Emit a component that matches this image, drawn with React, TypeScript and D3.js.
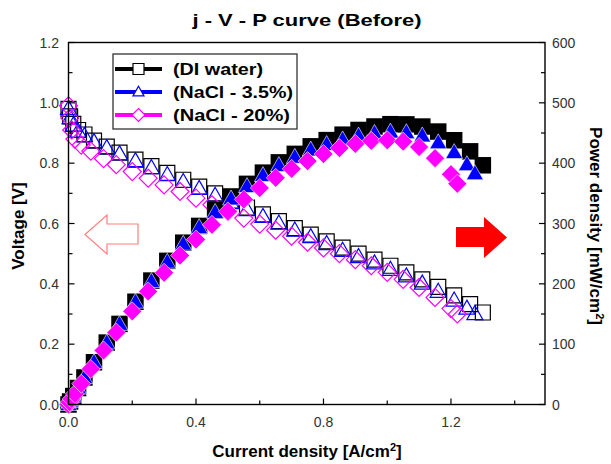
import React from 'react';
import * as d3 from 'd3';

// ---- Data ----
const jDI = [0, 0.005, 0.015, 0.03, 0.05, 0.08, 0.12, 0.16, 0.21, 0.26, 0.31, 0.36, 0.41, 0.46, 0.51, 0.56, 0.61, 0.66, 0.71, 0.76, 0.81, 0.86, 0.91, 0.96, 1.01, 1.06, 1.11, 1.16, 1.21, 1.26, 1.30];
const vDI = [0.98, 0.955, 0.93, 0.91, 0.895, 0.875, 0.855, 0.835, 0.812, 0.79, 0.768, 0.745, 0.722, 0.70, 0.676, 0.653, 0.63, 0.608, 0.585, 0.563, 0.541, 0.52, 0.50, 0.48, 0.46, 0.438, 0.415, 0.39, 0.362, 0.333, 0.305];
const pDI = [0, 4.8, 14, 27.3, 44.8, 70, 102.6, 133.6, 170.5, 205.4, 238.1, 268.2, 296, 322, 344.8, 365.7, 384.3, 401.3, 415.4, 427.9, 438.2, 447.2, 455, 460.8, 464.6, 464.3, 460.7, 452.4, 438, 419.6, 396.5];

const jNa35 = [0, 0.005, 0.015, 0.03, 0.05, 0.08, 0.12, 0.16, 0.21, 0.26, 0.31, 0.36, 0.41, 0.46, 0.51, 0.56, 0.61, 0.66, 0.71, 0.76, 0.81, 0.86, 0.91, 0.96, 1.01, 1.06, 1.11, 1.16, 1.21, 1.25, 1.275];
const vNa35 = [0.98, 0.95, 0.925, 0.905, 0.89, 0.87, 0.85, 0.83, 0.807, 0.784, 0.761, 0.738, 0.715, 0.692, 0.668, 0.645, 0.622, 0.60, 0.577, 0.555, 0.532, 0.51, 0.489, 0.468, 0.447, 0.425, 0.401, 0.374, 0.345, 0.318, 0.30];
const pNa35 = [0, 4.8, 13.9, 27.2, 44.5, 69.6, 102, 132.8, 169.5, 203.8, 235.9, 265.7, 293.2, 318.3, 340.7, 361.2, 379.4, 396, 409.7, 421.8, 430.9, 438.6, 445, 449.3, 451.5, 450.5, 445.1, 433.8, 417.5, 397.5, 382.5];

const jNa20 = [0, 0.004, 0.01, 0.02, 0.04, 0.07, 0.11, 0.15, 0.20, 0.25, 0.30, 0.35, 0.40, 0.45, 0.50, 0.55, 0.60, 0.65, 0.70, 0.75, 0.80, 0.85, 0.90, 0.95, 1.00, 1.05, 1.10, 1.15, 1.20, 1.22];
const vNa20 = [0.99, 0.95, 0.91, 0.88, 0.86, 0.84, 0.815, 0.795, 0.772, 0.75, 0.728, 0.706, 0.684, 0.662, 0.64, 0.618, 0.598, 0.578, 0.558, 0.538, 0.519, 0.50, 0.48, 0.46, 0.438, 0.415, 0.388, 0.355, 0.318, 0.30];
const pNa20 = [0, 3.8, 9.1, 17.6, 34.4, 58.8, 89.7, 119.3, 154.4, 187.5, 218.4, 247.1, 273.6, 297.9, 320, 339.9, 358.8, 375.7, 390.6, 403.5, 415.2, 425, 432, 437, 438, 435.8, 426.8, 408.3, 381.6, 366];

const legendLabels = ['(DI water)', '(NaCl - 3.5%)', '(NaCl - 20%)'];
const xTicks = [0, 0.4, 0.8, 1.2];
const xMinor = [0.2, 0.6, 1.0, 1.4];
const vTicks = [0, 0.2, 0.4, 0.6, 0.8, 1.0, 1.2];
const vMinor = [0.1, 0.3, 0.5, 0.7, 0.9, 1.1];
const pTicks = [0, 100, 200, 300, 400, 500, 600];
const pMinor = [50, 150, 250, 350, 450, 550];

const FONT = '"Liberation Sans", Arial, Helvetica, sans-serif';

type Shape = 'square' | 'triangle' | 'diamond';

function markerPath(shape: Shape, cx: number, cy: number, s: number): string {
  if (shape === 'square') {
    return `M${cx - s / 2},${cy - s / 2}h${s}v${s}h${-s}Z`;
  }
  if (shape === 'triangle') {
    const h = s * 0.88;
    return `M${cx},${cy - h * 0.6}L${cx + s / 2},${cy + h * 0.4}L${cx - s / 2},${cy + h * 0.4}Z`;
  }
  return `M${cx},${cy - s / 2}L${cx + s / 2},${cy}L${cx},${cy + s / 2}L${cx - s / 2},${cy}Z`;
}

export default function App() {
  const L = 68.5, R = 545, T = 42.5, B = 404.5;
  const x = d3.scaleLinear().domain([0, 1.495]).range([L, R]);
  const yV = d3.scaleLinear().domain([0, 1.2]).range([B, T]);
  const yP = d3.scaleLinear().domain([0, 600]).range([B, T]);

  const series = [
    { j: jDI, v: vDI, p: pDI, color: '#000000', shape: 'square' as Shape, hs: 15, fs: 16.5, label: legendLabels[0] },
    { j: jNa35, v: vNa35, p: pNa35, color: '#0000ff', shape: 'triangle' as Shape, hs: 16, fs: 17, label: legendLabels[1] },
    { j: jNa20, v: vNa20, p: pNa20, color: '#ff00ff', shape: 'diamond' as Shape, hs: 18, fs: 19, label: legendLabels[2] },
  ];

  const legendRowY = [69, 92, 115];
  const legendTextLen = [90, 120, 117];

  return (
    <svg width={611} height={464} viewBox="0 0 611 464"
      style={{ position: 'absolute', left: 0, top: 0, background: '#fff' }}
      fontFamily={FONT}>
      <rect x={0} y={0} width={611} height={464} fill="#fff" />

      {/* Title */}
      <text x={307} y={26} textAnchor="middle" fontSize={17} fontWeight="bold"
        textLength={229} lengthAdjust="spacingAndGlyphs">j - V - P curve (Before)</text>

      {/* Voltage curves (hollow) */}
      {series.map((s, si) => (
        <g key={'v' + si}>
          {s.j.map((jj, i) => (
            <path key={i} d={markerPath(s.shape, x(jj), yV(s.v[i]), s.hs)}
              fill="none" stroke={s.color} strokeWidth={1.2} />
          ))}
        </g>
      ))}

      {/* Power curves (filled) */}
      {series.map((s, si) => (
        <g key={'p' + si}>
          {s.j.map((jj, i) => (
            <path key={i} d={markerPath(s.shape, x(jj), yP(s.p[i]), s.fs)}
              fill={s.color} stroke={si === 0 ? 'none' : '#ffffff'} strokeWidth={0.6} />
          ))}
        </g>
      ))}

      {/* Frame */}
      <rect x={L} y={T} width={R - L} height={B - T} fill="none" stroke="#000" strokeWidth={1.4} />

      {/* X ticks */}
      {xTicks.map((t) => (
        <g key={'xt' + t}>
          <line x1={x(t)} x2={x(t)} y1={B} y2={B - 6} stroke="#000" strokeWidth={1.2} />
          <text x={x(t)} y={427} textAnchor="middle" fontSize={14} fill="#333">{t.toFixed(1)}</text>
        </g>
      ))}
      {xMinor.map((t) => (
        <line key={'xm' + t} x1={x(t)} x2={x(t)} y1={B} y2={B - 4} stroke="#000" strokeWidth={1.2} />
      ))}

      {/* Left V ticks */}
      {vTicks.map((t) => (
        <g key={'vt' + t}>
          <line x1={L} x2={L + 6} y1={yV(t)} y2={yV(t)} stroke="#000" strokeWidth={1.2} />
          <text x={59} y={yV(t) + 5} textAnchor="end" fontSize={14} fill="#333">{t.toFixed(1)}</text>
        </g>
      ))}
      {vMinor.map((t) => (
        <line key={'vm' + t} x1={L} x2={L + 4} y1={yV(t)} y2={yV(t)} stroke="#000" strokeWidth={1.2} />
      ))}

      {/* Right P ticks */}
      {pTicks.map((t) => (
        <g key={'pt' + t}>
          <line x1={R} x2={R - 6} y1={yP(t)} y2={yP(t)} stroke="#000" strokeWidth={1.2} />
          <text x={552} y={yP(t) + 5} textAnchor="start" fontSize={14} fill="#333">{t}</text>
        </g>
      ))}
      {pMinor.map((t) => (
        <line key={'pm' + t} x1={R} x2={R - 4} y1={yP(t)} y2={yP(t)} stroke="#000" strokeWidth={1.2} />
      ))}

      {/* Axis titles */}
      <text x={0} y={0} transform="translate(24,226) rotate(-90)" textAnchor="middle"
        fontSize={17} fontWeight="bold">Voltage [V]</text>
      <text x={0} y={0} transform="translate(590,226) rotate(90)" textAnchor="middle"
        fontSize={17} fontWeight="bold">Power density [mW/cm<tspan dy={-6} fontSize={11}>2</tspan><tspan dy={6}>]</tspan></text>
      <text x={307} y={457} textAnchor="middle" fontSize={17} fontWeight="bold">
        Current density [A/cm<tspan dy={-6} fontSize={11}>2</tspan><tspan dy={6}>]</tspan></text>

      {/* Arrows */}
      <path d="M85,234.5 L107,215 L107,224 L138,224 L138,244 L107,244 L107,254 Z"
        fill="none" stroke="#ff7f7f" strokeWidth={1.2} />
      <path d="M456,227 L484,227 L484,217 L507,237.5 L484,258 L484,247 L456,247 Z"
        fill="#ff0000" />

      {/* Legend */}
      <rect x={113} y={54} width={184} height={75} fill="#fff" stroke="#333" strokeWidth={1.3} />
      {series.map((s, si) => (
        <g key={'lg' + si}>
          <line x1={115} x2={162} y1={legendRowY[si]} y2={legendRowY[si]} stroke={s.color} strokeWidth={4} />
          <path d={markerPath(s.shape, 138.5, legendRowY[si], si === 2 ? 13 : 11)} fill="#fff" stroke={s.color} strokeWidth={1.2} />
          <text x={173} y={legendRowY[si] + 6} fontSize={17} fontWeight="bold"
            textLength={legendTextLen[si]} lengthAdjust="spacingAndGlyphs">{s.label}</text>
        </g>
      ))}
    </svg>
  );
}
